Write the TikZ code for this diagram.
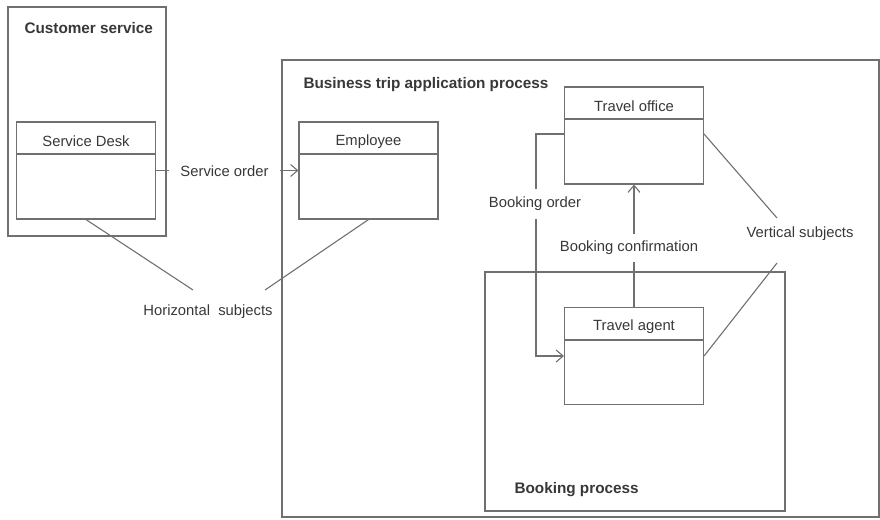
\documentclass[tikz,border=0pt]{standalone}
\usepackage{fontspec}
\setmainfont{Liberation Sans}
\usetikzlibrary{arrows.meta}
\definecolor{ln}{HTML}{707070}
\definecolor{tx}{HTML}{383838}
\tikzset{
  every node/.style={text=tx, font=\fontsize{14.8}{17}\selectfont},
  subj/.style={draw=ln, line width=1.1pt, fill=white, minimum width=139pt, minimum height=97pt, inner sep=0pt},
  frame/.style={draw=ln, line width=1.6pt},
  conn/.style={draw=ln, line width=1.1pt},
  arr/.style={conn, -{Straight Barb[length=7pt,width=12pt,line width=1.1pt]}},
  ttl/.style={anchor=west, font=\fontsize{15.3}{18}\selectfont\bfseries},
  lbl/.style={fill=white, inner xsep=3pt, inner ysep=8pt},
}
\begin{document}
\begin{tikzpicture}[x=1pt,y=-1pt]
\useasboundingbox (0,0) rectangle (880,519);
% frames
\draw[frame] (8,7) rectangle (166,236);
\node[ttl] (cst) at (21,28) {Customer service};
\draw[frame] (282,60) rectangle (879,517);
\node[ttl] (btt) at (300,85) {Business trip application process};
\draw[frame] (485,272) rectangle (785,511);
\node[ttl] (bpt) at (511,490) {Booking process};
% subjects
\node[subj] (sd) at (86,170.5) {};
\draw[conn] (17,154) -- (155,154);
\node (sdt) at (86,141.5) {Service Desk};
\node[subj] (emp) at (368.5,170.5) {};
\draw[conn] (299,154) -- (438,154);
\node (empt) at (368.5,141.5) {Employee};
\node[subj] (to) at (634,135.5) {};
\draw[conn] (564,119) -- (704,119);
\node (tot) at (634,106.5) {Travel office};
\node[subj] (ta) at (634,356) {};
\draw[conn] (564,340) -- (704,340);
\node (tat) at (634,327) {Travel agent};
% connectors
\draw[arr] (sd.east) -- (emp.west);
\node[fill=white, inner xsep=11pt, inner ysep=2pt] (so) at (224.5,171) {Service order};
\draw[arr] ([yshift=1.5pt]to.west) -- ++(-28,0) |- (ta.west);
\node[lbl] (bo) at (535,204) {Booking order};
\draw[arr] (ta.north) -- (to.south);
\node[lbl, inner ysep=7pt] (bc) at (629,248) {Booking confirmation};
% horizontal subjects
\node (hs) at (208,312) {Horizontal\ \ subjects};
\coordinate (hs1) at (193,290);
\coordinate (hs2) at (265,290);
\draw[conn] (sd.south) -- (hs1);
\draw[conn] (emp.south) -- (hs2);
% vertical subjects
\node (vs) at (800,234) {Vertical subjects};
\coordinate (vs1) at (777,218);
\coordinate (vs2) at (777,263);
\draw[conn] ([yshift=1.5pt]to.east) -- (vs1);
\draw[conn] (ta.east) -- (vs2);
\end{tikzpicture}
\end{document}
